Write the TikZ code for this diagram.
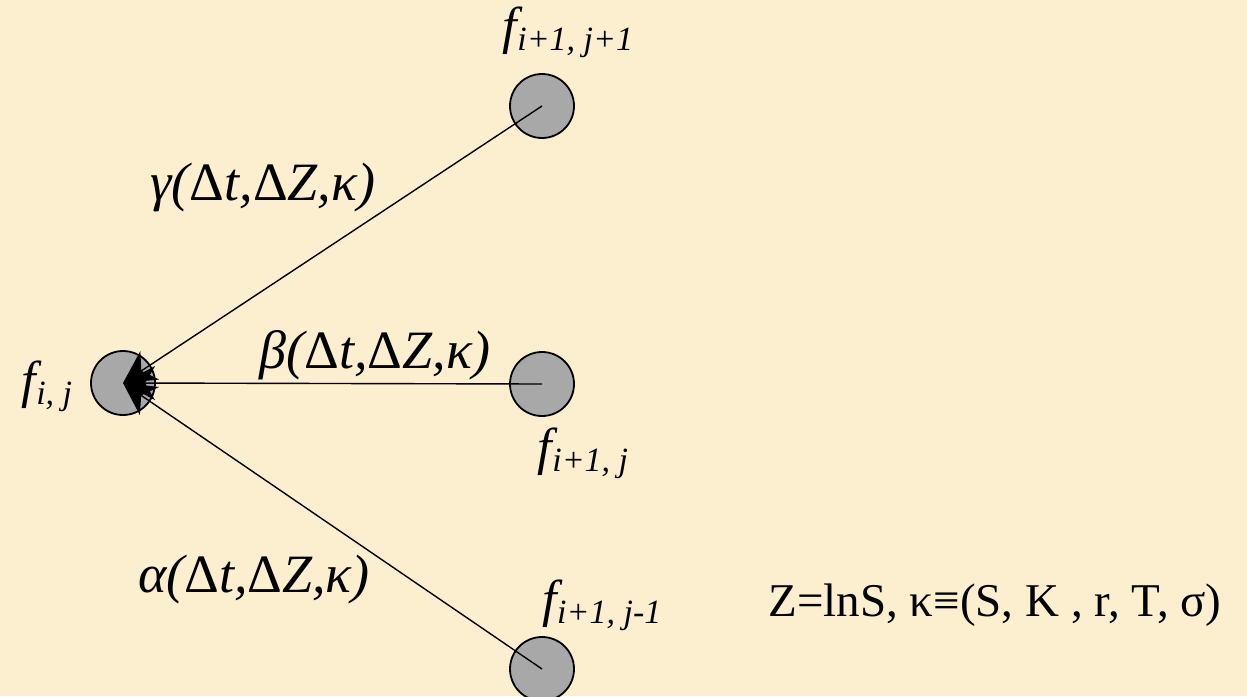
\documentclass[tikz,border=0pt]{standalone}
\usepackage{fontspec}
\setmainfont{Liberation Serif}[ItalicFont={Liberation Serif Italic},BoldFont={Liberation Serif Bold}]
\newfontfamily\tnri{Liberation Serif Italic}
\usetikzlibrary{arrows.meta}
\definecolor{bg}{RGB}{251,239,208}
\definecolor{ball}{RGB}{168,168,168}
\newcommand{\bigf}[1]{{\fontsize{52}{56}\tnri f\raisebox{-7pt}{\fontsize{34}{38}\tnri #1}}}
\newcommand{\coef}[1]{{\fontsize{54}{58}\tnri #1({\rmfamily Δ}t,{\rmfamily Δ}Z,κ)}}
\tikzset{
  x=1pt,y=-1pt,
  ball/.style={circle,draw=black,line width=1.8pt,fill=ball,minimum size=64pt,inner sep=0pt},
  branch/.style={line width=1.4pt,-{Stealth[length=32pt,width=34pt,inset=10pt]}},
  lab/.style={inner sep=0pt,anchor=center}
}
\begin{document}
\begin{tikzpicture}
\fill[bg] (0,0) rectangle (1247,696);
\useasboundingbox (0,0) rectangle (1247,696);
\node[ball] (a) at (123,383) {};
\node[ball] (b) at (542,106) {};
\node[ball] (c) at (542,384) {};
\node[ball] (d) at (542,669) {};
\draw[branch] (b.center) -- (a.center);
\draw[branch] (c.center) -- (a.center);
\draw[branch] (d.center) -- (a.center);
\node[lab] (lb) at (568,32) {\bigf{i+1, j+1}};
\node[lab] (la) at (47,386) {\bigf{i, j}};
\node[lab] (lc) at (583,453) {\bigf{i+1, j}};
\node[lab] (ld) at (602,605) {\bigf{i+1, j-1}};
\node[lab] (g) at (263,188) {\coef{γ}};
\node[lab] (be) at (375,355) {\coef{β}};
\node[lab] (al) at (254,580) {\coef{α}};
\node[lab] (z) at (995,605) {\fontsize{47}{51}\selectfont Z=lnS, κ≡(S, K , r, T, σ)};
\end{tikzpicture}
\end{document}
